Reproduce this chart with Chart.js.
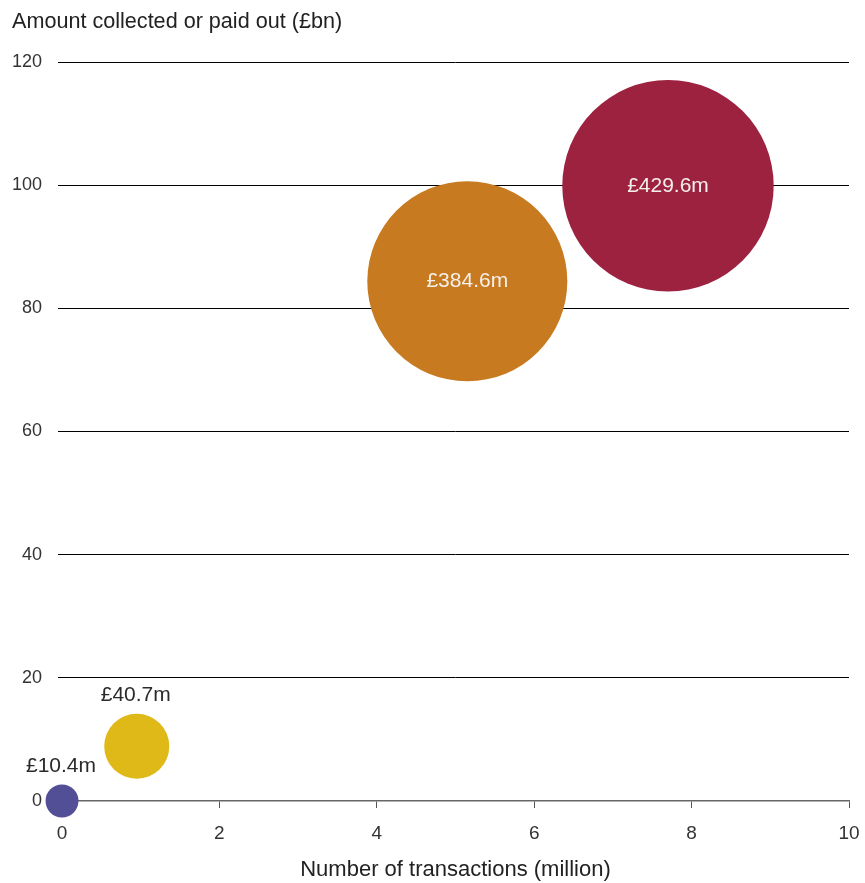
<!DOCTYPE html>
<html>
<head>
<meta charset="utf-8">
<script src="https://cdn.jsdelivr.net/npm/chart.js@4/dist/chart.umd.min.js"></script>
<style>
  html, body { margin: 0; padding: 0; background: #fff; }
  #wrap { width: 865px; height: 883px; position: relative; }
</style>
</head>
<body>
<div id="wrap"><canvas id="bubbleChart"></canvas></div>
<script>
const transactions = [0, 0.95, 5.15, 7.7];      // million
const amounts = [0, 8.9, 84.4, 99.9];           // £bn
const costs = [10.4, 40.7, 384.6, 429.6];       // £m, bubble size
const costLabels = ['£10.4m', '£40.7m', '£384.6m', '£429.6m'];
const colours = ['#534f97', '#dfb918', '#c77a20', '#9c2240'];
const xTicks = [0, 2, 4, 6, 8, 10];
const yTicks = [0, 20, 40, 60, 80, 100, 120];

const FONT = '"Liberation Sans", Arial, sans-serif';

const bubbleLabels = {
    id: 'bubbleLabels',
    afterDatasetsDraw(chart) {
        const ctx = chart.ctx;
        const meta = chart.getDatasetMeta(0);
        ctx.save();
        ctx.font = '21px ' + FONT;
        ctx.textAlign = 'center';
        ctx.textBaseline = 'middle';
        meta.data.forEach((el, i) => {
            const r = el.options.radius;
            if (r > 50) {
                ctx.fillStyle = '#f4f0ec';
                ctx.fillText(costLabels[i], el.x, el.y);
            } else {
                ctx.fillStyle = '#2a2a2a';
                ctx.fillText(costLabels[i], el.x - 1, el.y - r - 18);
            }
        });
        ctx.restore();
    },
    afterDraw(chart) {
        const ctx = chart.ctx;
        ctx.save();
        ctx.font = '21.6px ' + FONT;
        ctx.fillStyle = '#222';
        ctx.textAlign = 'left';
        ctx.textBaseline = 'middle';
        ctx.fillText('Amount collected or paid out (£bn)', 12, 22);
        ctx.restore();
    }
};

new Chart(document.getElementById('bubbleChart'), {
    type: 'bubble',
    data: {
        datasets: [{
            data: transactions.map((x, i) => ({ x: x, y: amounts[i], r: 5.1 * Math.sqrt(costs[i]) })),
            backgroundColor: colours,
            hoverBackgroundColor: colours,
            borderWidth: 0,
            hoverBorderWidth: 0,
            clip: false
        }]
    },
    options: {
        responsive: true,
        maintainAspectRatio: false,
        animation: false,
        events: [],
        layout: { autoPadding: false, padding: { top: 62, right: 16, bottom: 0, left: 0 } },
        plugins: {
            legend: { display: false },
            tooltip: { enabled: false }
        },
        scales: {
            x: {
                type: 'linear',
                min: 0,
                max: 10,
                afterBuildTicks: s => { s.ticks = xTicks.map(v => ({ value: v })); },
                afterFit: s => { s.height = 82; s.paddingLeft = 0; s.paddingRight = 0; },
                border: { color: '#666', width: 1.5 },
                grid: { drawOnChartArea: false, drawTicks: true, tickLength: 7, color: '#555' },
                ticks: { color: '#333', padding: 14, font: { family: FONT, size: 19 } },
                title: {
                    display: true,
                    text: 'Number of transactions (million)',
                    color: '#222',
                    font: { family: FONT, size: 22 },
                    padding: { top: 0, bottom: 0 }
                }
            },
            y: {
                type: 'linear',
                min: 0,
                max: 120,
                afterBuildTicks: s => { s.ticks = yTicks.map(v => ({ value: v })); },
                afterFit: s => { s.width = 62; s.paddingTop = 0; s.paddingBottom = 0; },
                border: { display: false },
                grid: {
                    color: c => (c.tick && c.tick.value === 0) ? 'rgba(0,0,0,0)' : '#000',
                    lineWidth: 1,
                    drawTicks: true,
                    tickLength: 4
                },
                ticks: { color: '#333', padding: 16, font: { family: FONT, size: 18 } }
            }
        }
    },
    plugins: [bubbleLabels]
});
</script>
</body>
</html>
